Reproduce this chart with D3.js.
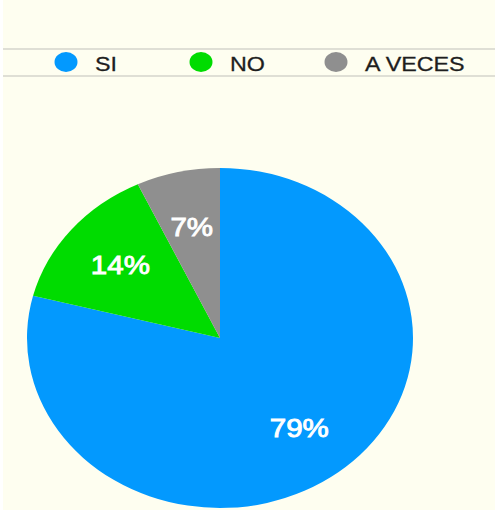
<!DOCTYPE html>
<html>
<head>
<meta charset="utf-8">
<script src="https://cdn.jsdelivr.net/npm/d3@7"></script>
<style>
  body { margin: 0; background: #ffffff; }
  svg { display: block; }
</style>
</head>
<body>
<svg id="chart"></svg>
<script>
const categories = ["SI", "NO", "A VECES"];
const values = [79, 14, 7];
const colors = ["#0399fe", "#00dc00", "#8f8f8f"];

const width = 497;
const height = 510;
const cx = 220;
const cy = 338;
const radius = 170;
const stretch = 193 / 170;

const svg = d3.select('#chart')
    .attr('width', width)
    .attr('height', height);

svg.append('rect')
    .attr('x', 3)
    .attr('y', 0)
    .attr('width', width - 5)
    .attr('height', height)
    .attr('fill', '#fefef0');

// legend band
svg.append('g')
    .selectAll('line')
    .data([49, 76])
    .enter()
    .append('line')
    .attr('x1', 3)
    .attr('x2', width - 2)
    .attr('y1', d => d)
    .attr('y2', d => d)
    .attr('stroke', '#d4d4cc')
    .attr('stroke-width', 1.5);

const legendX = d3.scalePoint()
    .domain(categories)
    .range([66, 336]);

const legend = svg.append('g')
    .selectAll('g')
    .data(categories)
    .enter()
    .append('g')
    .attr('transform', d => `translate(${legendX(d)},62)`);

legend.append('ellipse')
    .attr('rx', 11.5)
    .attr('ry', 10)
    .attr('fill', (d, i) => colors[i]);

legend.append('text')
    .attr('x', 29 / stretch)
    .attr('y', 2)
    .attr('transform', `scale(${stretch},1)`)
    .attr('dominant-baseline', 'central')
    .attr('font-family', 'Liberation Sans, Arial, sans-serif')
    .attr('font-size', 20.5)
    .attr('fill', '#1e1e1e')
    .attr('stroke', '#1e1e1e')
    .attr('stroke-width', 0.3)
    .text(d => d);

// pie
const pie = d3.pie()
    .sort(null)
    .value(d => d);

const arcs = pie(values);

const arc = d3.arc()
    .innerRadius(0)
    .outerRadius(radius);

const labelArc = d3.arc()
    .innerRadius(radius * 0.67)
    .outerRadius(radius * 0.67);

svg.append('g')
    .attr('transform', `translate(${cx},${cy}) scale(${stretch},1)`)
    .selectAll('path')
    .data(arcs)
    .enter()
    .append('path')
    .attr('d', arc)
    .attr('fill', (d, i) => colors[i]);

svg.append('g')
    .selectAll('text')
    .data(arcs)
    .enter()
    .append('text')
    .attr('transform', d => {
        const c = labelArc.centroid(d);
        return `translate(${cx + c[0] * stretch},${cy + c[1]}) scale(${stretch},1)`;
    })
    .attr('text-anchor', 'middle')
    .attr('dominant-baseline', 'central')
    .attr('font-family', 'Liberation Sans, Arial, sans-serif')
    .attr('font-size', 26)
    .attr('fill', '#ffffff')
    .attr('stroke', '#ffffff')
    .attr('stroke-width', 0.9)
    .text(d => `${d.data}%`);
</script>
</body>
</html>
